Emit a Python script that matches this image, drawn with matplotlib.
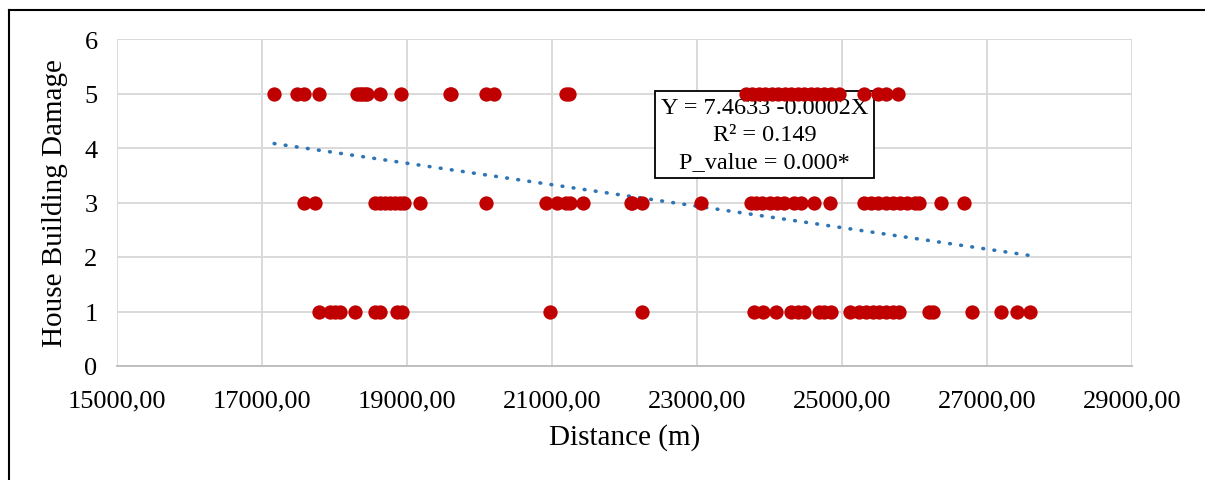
import numpy as np
import matplotlib.pyplot as plt
from matplotlib.ticker import FuncFormatter
from matplotlib.lines import Line2D

# distances (m), grouped by damage level
dist_5 = [17168, 17482, 17583, 17780, 18311, 18345, 18380, 18415, 18449, 18633, 18923,
          19590, 19610, 20083, 20198, 21188, 21233,
          23674, 23760, 23850, 23940, 24030, 24120, 24210, 24300, 24390, 24480,
          24570, 24660, 24750, 24850, 24959, 25304, 25497, 25608, 25773]
dist_3 = [17573, 17735, 18564, 18633, 18700, 18770, 18840, 18909, 18954, 19185, 20083,
          20912, 21064, 21188, 21247, 21427, 22086, 22109, 22247, 23052,
          23743, 23810, 23900, 24000, 24100, 24200, 24340, 24434, 24613, 24839,
          25304, 25400, 25500, 25600, 25700, 25800, 25900, 26000, 26064, 26367, 26681]
dist_1 = [17780, 17942, 18011, 18080, 18287, 18554, 18633, 18863, 18932, 20967, 22238,
          23789, 23904, 24088, 24296, 24388, 24479, 24686, 24755, 24848, 25110,
          25239, 25331, 25424, 25515, 25608, 25700, 25792, 26206, 26253, 26791,
          27196, 27413, 27587]

intercept = 7.4633
slope = -0.000197

x = np.array(dist_5 + dist_3 + dist_1)
y = np.array([5] * len(dist_5) + [3] * len(dist_3) + [1] * len(dist_1))

plt.rcParams['font.family'] = ['Liberation Serif', 'DejaVu Serif']

fig = plt.figure(figsize=(12.05, 4.81), dpi=100)
ax = fig.add_axes([117 / 1205, 1 - 367 / 481, (1132 - 117) / 1205, (367 - 40) / 481])

ax.plot(x, y, 'o', color='#C00000', markersize=10.3, markeredgewidth=0, zorder=4)

xs = np.array([x.min(), x.max()])
ax.plot(xs, intercept + slope * xs, color='#2E75B6', lw=2.6, linestyle=(0, (0.2, 2.9)),
        dash_capstyle='round', zorder=3)

ax.set_xlim(15000, 29000)
ax.set_ylim(0, 6)
ax.set_xticks(np.arange(15000, 29001, 2000))
ax.set_yticks(range(0, 7))
ax.xaxis.set_major_formatter(FuncFormatter(lambda v, p: f"{v:.2f}".replace('.', ',')))
ax.grid(True, color='#D9D9D9', lw=1.4, zorder=0)
ax.set_axisbelow(True)
for s in ['top', 'right', 'left']:
    ax.spines[s].set_visible(False)
ax.spines['bottom'].set_color('#BFBFBF')
ax.spines['bottom'].set_linewidth(1.4)
ax.tick_params(length=0, labelsize=19, colors='black')
ax.tick_params(axis='x', pad=17)
ax.tick_params(axis='y', pad=14)

ax.set_xlabel('Distance (m)', fontsize=21, labelpad=8)
ax.set_ylabel('House Building Damage', fontsize=21, labelpad=12)

ax.text(0.638, 0.709, 'Y = 7.4633 -0.0002X\nR² = 0.149\nP_value = 0.000*',
        transform=ax.transAxes, ha='center', va='center', fontsize=17.5,
        linespacing=1.38, zorder=2,
        bbox=dict(boxstyle='square,pad=0.25', fc='white', ec='black', lw=1.3))

# outer frame of the chart
fig.add_artist(Line2D([9 / 1205, 9 / 1205], [0, 1 - 11 / 481], color='black', lw=1.5))
fig.add_artist(Line2D([9 / 1205, 1], [1 - 11 / 481, 1 - 11 / 481], color='black', lw=1.5))

fig.savefig('out.png', dpi=100)
